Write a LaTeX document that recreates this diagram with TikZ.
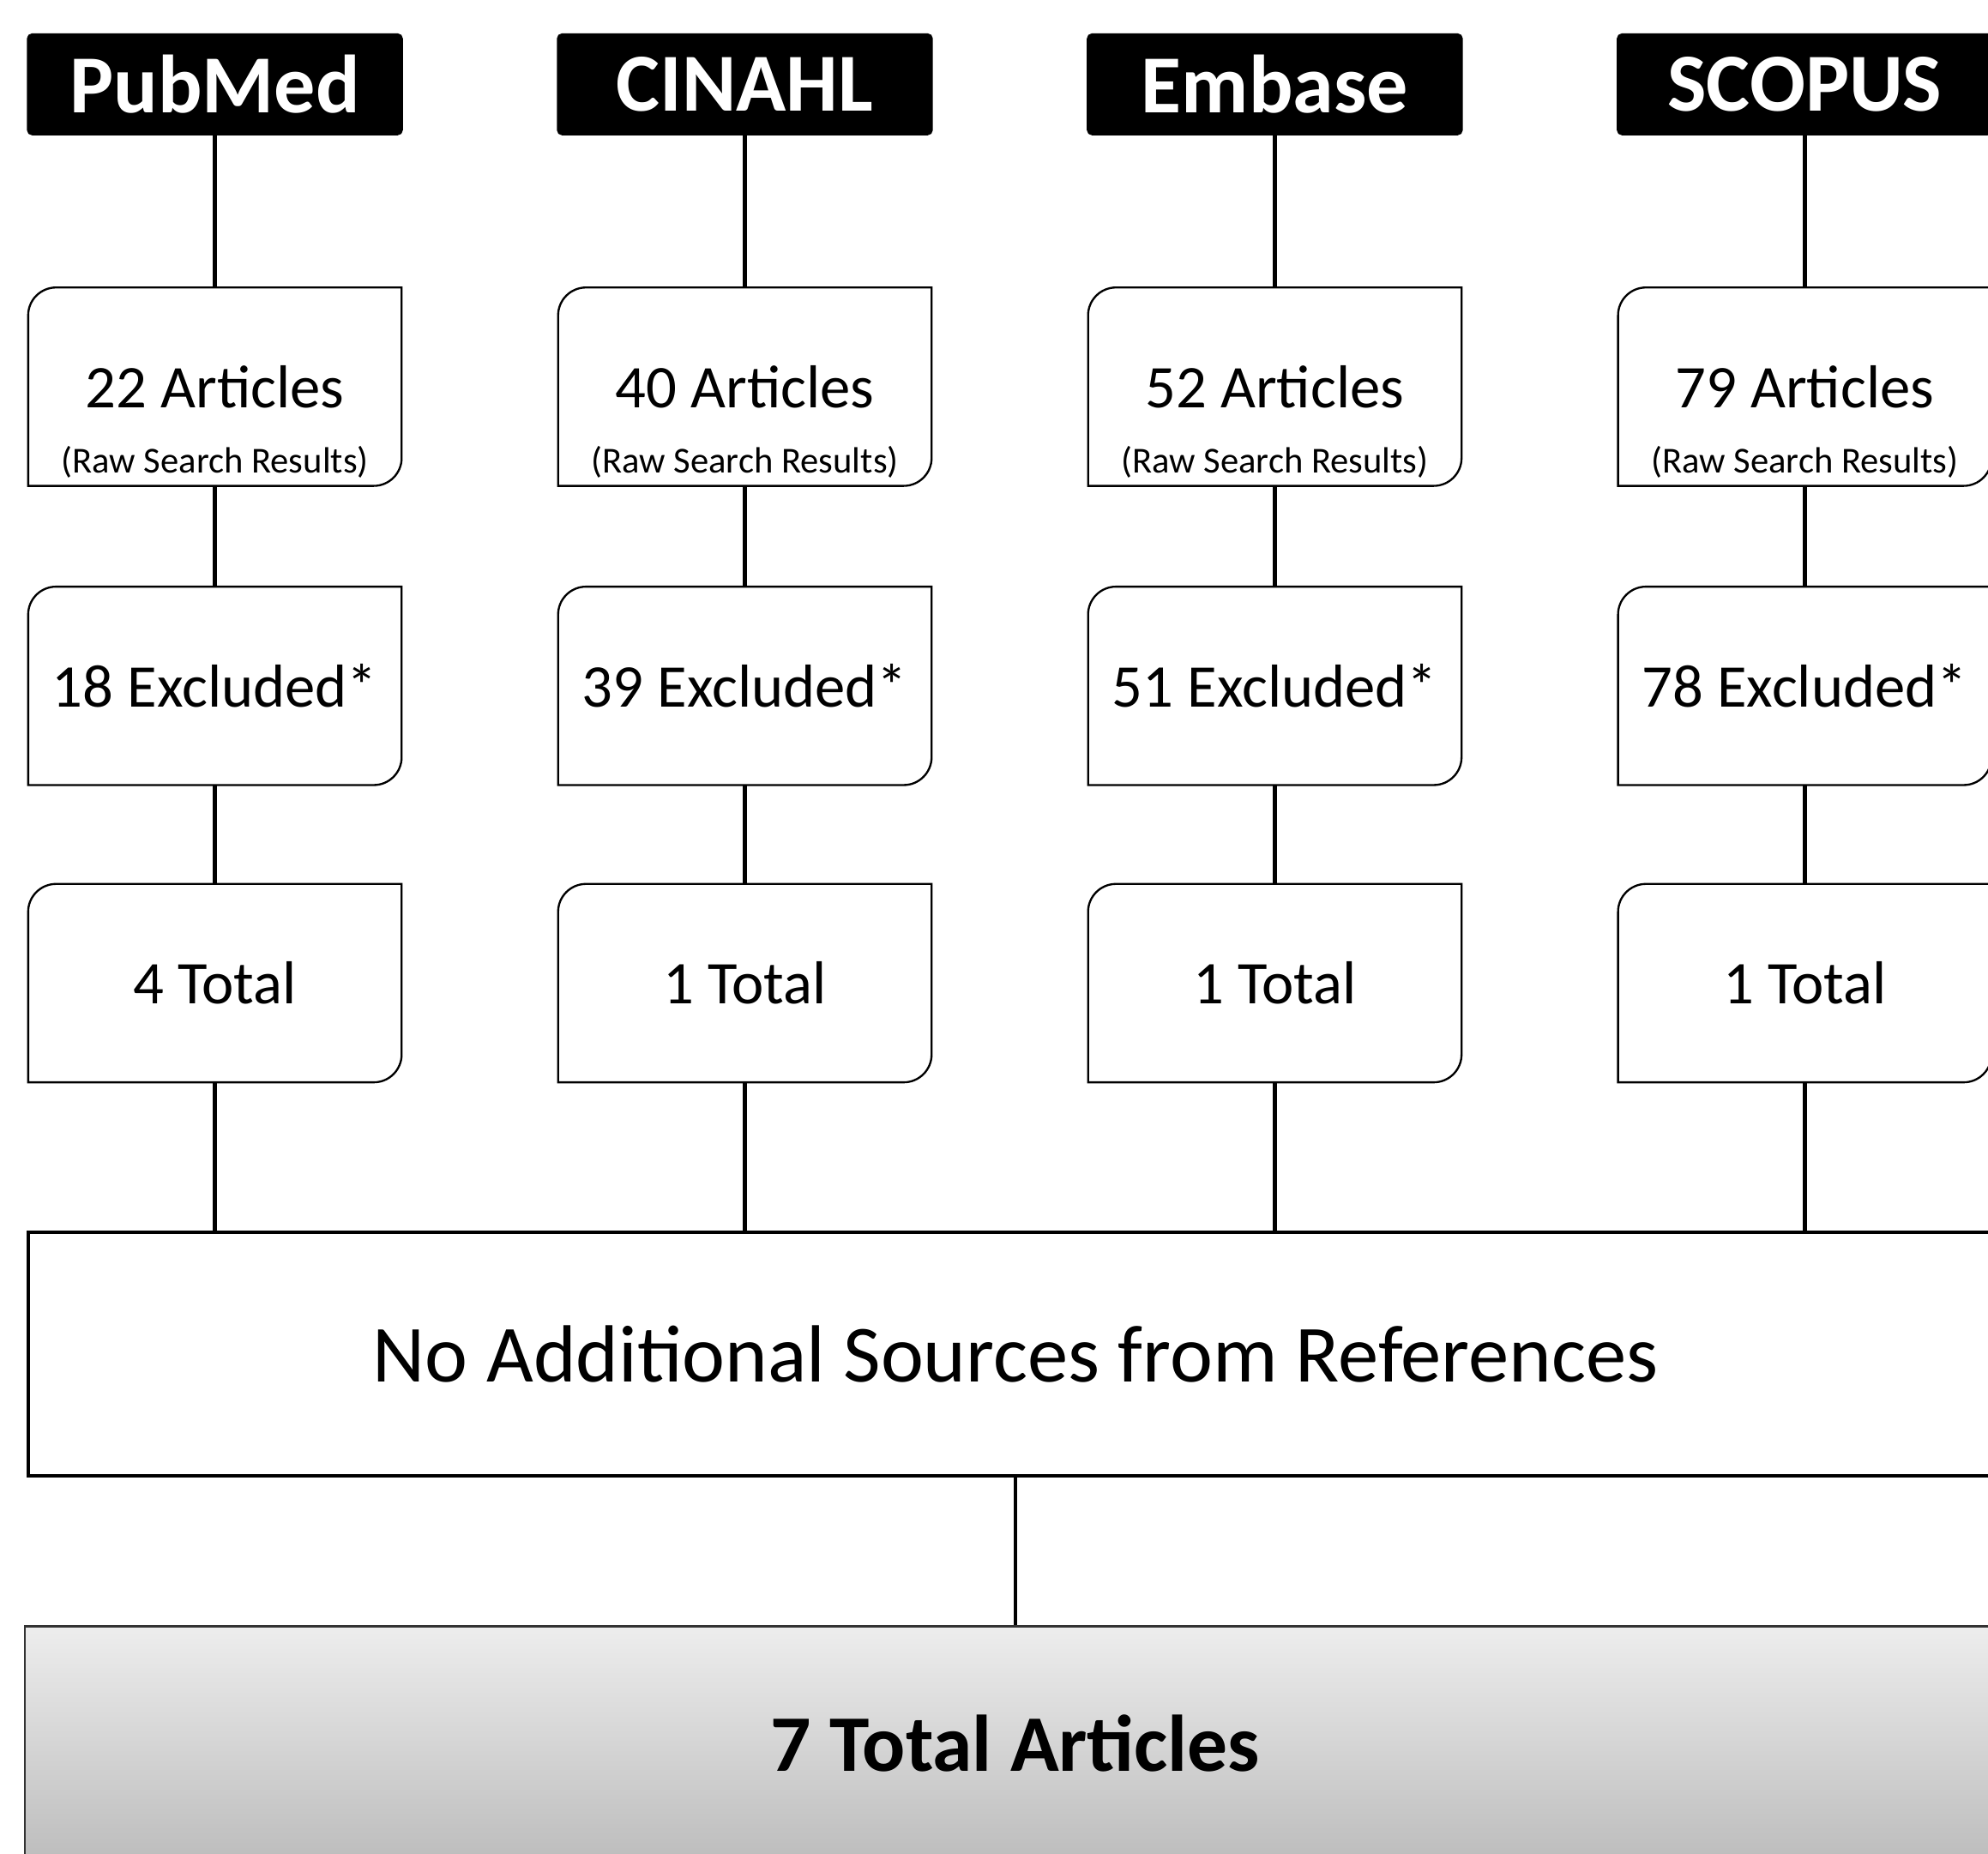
\documentclass[tikz,border=0pt]{standalone}
\usepackage{fontspec}
\setmainfont{Carlito}
\definecolor{shadetop}{HTML}{EDEDED}
\definecolor{shadebot}{HTML}{BDBDBD}
\tikzset{
  dbhead/.style={fill=black, draw=black, rounded corners=1pt, minimum width=2.95cm, minimum height=0.79cm, inner sep=0pt, text=white, font=\fontsize{18.5}{20}\selectfont\bfseries},
  countbox/.style={minimum width=2.93cm, minimum height=1.55cm, inner sep=0pt, font=\fontsize{13.6}{16}\selectfont},
  subnote/.style={anchor=base, inner sep=0pt, font=\fontsize{8.2}{10}\selectfont},
  link/.style={line width=0.9pt},
  outline/.style={line width=0.45pt},
}
% box with rounded top-left and bottom-right corners
\newcommand{\cutbox}[1]{\draw[outline] (#1.north east) -- ([yshift=0.22cm]#1.south east) arc[start angle=0, end angle=-90, radius=0.22cm] -- (#1.south west) -- ([yshift=-0.22cm]#1.north west) arc[start angle=180, end angle=90, radius=0.22cm] -- cycle;}
\begin{document}
\begin{tikzpicture}[x=0.01cm, y=-0.01cm]
\useasboundingbox (0,0) rectangle (1568,1462);
\node[draw, line width=0.8pt, minimum width=15.56cm, minimum height=1.92cm, inner sep=0pt, font=\fontsize{18.2}{20}\selectfont] (refs) at (801, 1068) {No Additional Sources from References};
\node[draw=black!80, line width=0.5pt, top color=shadetop, bottom color=shadebot, minimum width=15.62cm, minimum height=1.84cm, inner sep=0pt, font=\fontsize{18}{20}\selectfont\bfseries] (total) at (801, 1375) {7 Total Articles};
\foreach \db/\art/\exc/\tot [count=\i] in {PubMed/22/18/4, CINAHL/40/39/1, Embase/52/51/1, SCOPUS/79/78/1} {
  \pgfmathsetmacro{\cx}{169.5+418*(\i-1)}
  \node[dbhead] (db\i) at (\cx, 66.5) {\db};
  \node[countbox] (art\i) at (\cx, 305) {\art{} Articles};
  \node[subnote] (sub\i) at ([yshift=0.1cm]art\i.south) {(Raw Search Results)};
  \node[countbox] (exc\i) at (\cx, 541) {\exc{} Excluded*};
  \node[countbox] (tot\i) at (\cx, 775.5) {\tot{} Total};
  \cutbox{art\i} \cutbox{exc\i} \cutbox{tot\i}
  \draw[link] (db\i.south) -- (art\i.north);
  \draw[link] (art\i.south) -- (exc\i.north);
  \draw[link] (exc\i.south) -- (tot\i.north);
  \draw[link] (tot\i.south) -- (tot\i.south |- refs.north);
}
\draw[link] (refs.south) -- (total.north);
\end{tikzpicture}
\end{document}
